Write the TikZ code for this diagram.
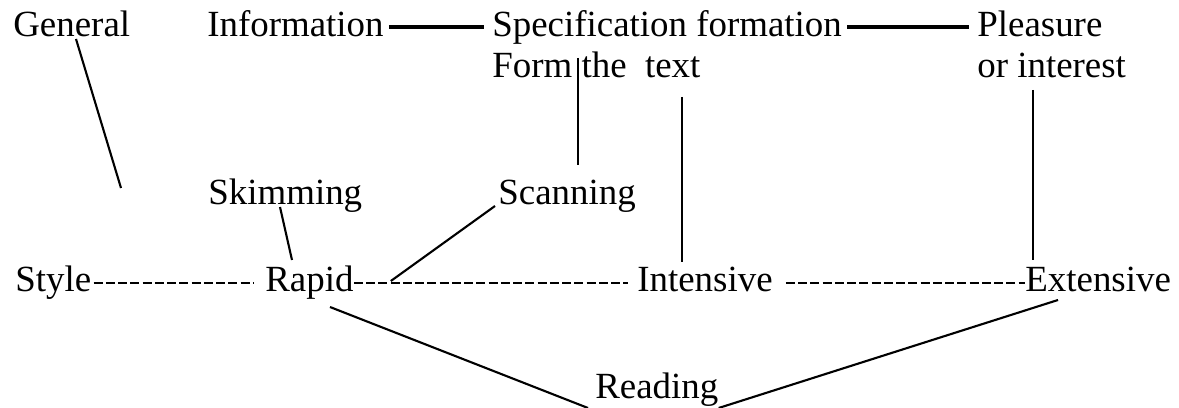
\documentclass[tikz,border=0pt]{standalone}
\usepackage{fontspec}
\setmainfont{Liberation Serif}
\usetikzlibrary{positioning}
\tikzset{
  word/.style={inner sep=0pt, anchor=base west, font=\fontsize{21}{25}\selectfont},
  link/.style={line width=1.2pt, black},
  rule/.style={line width=2pt, black},
  hyph/.style={line width=1.5pt, black, dash pattern=on 1.8mm off 0.65mm},
}

\begin{document}
\begin{tikzpicture}[x=0.2mm, y=-0.2mm]
    \useasboundingbox (0,0) rectangle (1179,408);
    \node[word] (general)  at (13,37)   {General};
    \node[word] (info)     at (207,37)  {Information};
    \node[word] (spec)     at (492,37)  {Specification formation};
    \node[word] (pleasure) at (977,37)  {Pleasure};
    \node[word] (form)     at (492,78)  {Form the\ \ text};
    \node[word] (interest) at (977,78)  {or interest};
    \node[word] (skim)     at (208,205) {Skimming};
    \node[word] (scan)     at (498,205) {Scanning};
    \node[word] (style)    at (15,292)  {Style};
    \node[word] (rapid)    at (265,292) {Rapid};
    \node[word] (intens)   at (637,292) {Intensive};
    \node[word] (extens)   at (1025,292) {Extensive};
    \node[word] (reading)  at (595,399) {Reading};
    \coordinate (gen-end) at (121,188);
    \draw[rule] ([shift={(5,-10)}]info.base east) -- ([shift={(-8,-10)}]spec.base west);
    \draw[rule] ([shift={(5,-10)}]spec.base east) -- ([shift={(-8,-10)}]pleasure.base west);
    \draw[link] ([shift={(63,2)}]general.base west) -- (gen-end);
    \draw[link] ([shift={(86,-20)}]form.base west) -- ([shift={(80,-40)}]scan.base west);
    \draw[link] ([shift={(190,19)}]form.base west) -- ([shift={(45,-30)}]intens.base west);
    \draw[link] ([shift={(56,12)}]interest.base west) -- ([shift={(8,-32)}]extens.base west);
    \draw[link] ([shift={(72,2)}]skim.base west) -- ([shift={(27,-32)}]rapid.base west);
    \draw[link] ([shift={(-3,1)}]scan.base west) -- ([shift={(37,-11)}]rapid.base east);
    \draw[link] ([shift={(65,15)}]rapid.base west) -- ([shift={(-7,9)}]reading.base west);
    \draw[link] ([shift={(33,8)}]extens.base west) -- ([shift={(0,9)}]reading.base east);
    \draw[hyph] ([shift={(2,-9)}]style.base east) -- ([shift={(-12,-9)}]rapid.base west);
    \draw[hyph] ([shift={(0,-9)}]rapid.base east) -- ([shift={(-9,-9)}]intens.base west);
    \draw[hyph] ([shift={(13,-9)}]intens.base east) -- ([shift={(0,-9)}]extens.base west);
\end{tikzpicture}
\end{document}
